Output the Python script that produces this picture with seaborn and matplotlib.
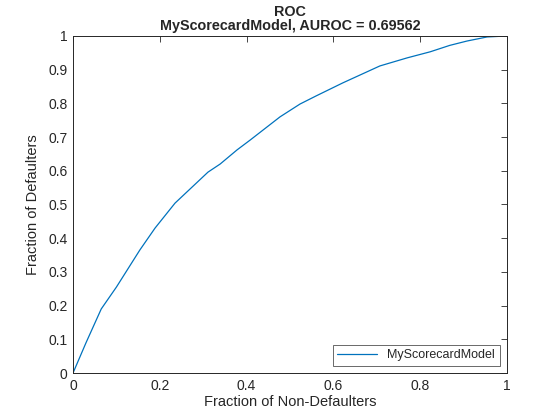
import numpy as np
import pandas as pd
import matplotlib
matplotlib.use("Agg")
import matplotlib.pyplot as plt
import seaborn as sns

# ROC curve points
fpr = [0.0, 0.03, 0.065, 0.10, 0.154, 0.189, 0.235, 0.311, 0.339, 0.378,
       0.408, 0.477, 0.523, 0.56, 0.622, 0.707, 0.770, 0.823, 0.868, 0.908,
       0.954, 1.0]
tpr = [0.0, 0.09, 0.19, 0.255, 0.365, 0.43, 0.504, 0.596, 0.620, 0.662,
       0.691, 0.76, 0.798, 0.822, 0.861, 0.911, 0.935, 0.953, 0.972, 0.985,
       0.997, 1.0]
model_name = "MyScorecardModel"
auroc = 0.69562

df = pd.DataFrame({"fpr": fpr, "tpr": tpr, "model": model_name})

sns.set_style("white")
plt.rcParams["font.family"] = ["Liberation Sans", "DejaVu Sans"]

fig = plt.figure(figsize=(5.6, 4.2), dpi=100)
ax = fig.add_axes([0.1304, 0.1119, 0.775, 0.8025])

sns.lineplot(data=df, x="fpr", y="tpr", hue="model", palette=["#0072BD"],
             linewidth=0.9, sort=False, estimator=None, ax=ax)

ax.set_xlim(0, 1)
ax.set_ylim(0, 1)
ax.set_xticks(np.arange(0, 1.01, 0.2))
ax.set_yticks(np.arange(0, 1.01, 0.1))
ax.set_xticklabels(["0", "0.2", "0.4", "0.6", "0.8", "1"])
ax.set_yticklabels(["0"] + [f"{v:.1f}" for v in np.arange(0.1, 0.95, 0.1)] + ["1"])
ax.tick_params(direction="in", length=4, width=0.6, top=True, right=True,
               labelsize=10, colors="#262626", pad=4)
for s in ax.spines.values():
    s.set_color("#262626")
    s.set_linewidth(0.7)

ax.set_xlabel("Fraction of Non-Defaulters", fontsize=10.5, color="#262626", labelpad=2)
ax.set_ylabel("Fraction of Defaulters", fontsize=10.5, color="#262626", labelpad=6)
ax.set_title(f"ROC\n{model_name}, AUROC = {auroc}", fontsize=10.4, fontweight="bold",
             linespacing=1.0, pad=4)

leg = ax.legend(loc="lower right", fontsize=9, frameon=True, fancybox=False,
                handlelength=3.2, borderpad=0.35, borderaxespad=0.6)
leg.get_frame().set_edgecolor("#262626")
leg.get_frame().set_linewidth(0.6)

fig.savefig("out.png", dpi=100)
